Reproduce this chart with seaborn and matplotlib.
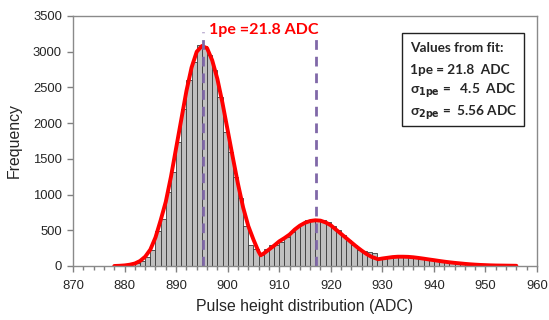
import numpy as np
import pandas as pd
import matplotlib
matplotlib.use('Agg')
import matplotlib.pyplot as plt
import seaborn as sns
from matplotlib.patches import Rectangle
from matplotlib.ticker import MultipleLocator

# histogram: left bin edge (ADC) and counts
bin_left = list(range(878, 957))
counts = [2, 5, 12, 22, 40, 75, 130, 230, 490, 660,
          1040, 1320, 1740, 2200, 2600, 2850, 3100, 3080, 2950, 2740,
          2370, 1880, 1600, 1250, 950, 560, 300, 240, 150, 240,
          290, 300, 340, 410, 470, 540, 590, 640, 650, 655,
          640, 610, 560, 500, 440, 370, 300, 220, 210, 190,
          180, 110, 130, 130, 135, 135, 135, 130, 125, 115,
          105, 90, 80, 70, 60, 50, 42, 35, 28, 22,
          17, 13, 10, 8, 6, 4, 3, 2, 1]

# fitted curve
fit_x = [878, 879, 880, 881, 882, 883, 884, 885, 886, 887, 888, 889, 890,
         891, 892, 893, 894, 895, 896, 897, 898, 899, 900, 901, 902, 903,
         904, 905, 906, 906.4, 907, 908, 909, 910, 911, 912, 913, 914, 915,
         916, 917, 918, 919, 920, 921, 922, 923, 924, 925, 926, 927, 928,
         929.2, 930, 931, 932, 933, 934, 935, 936, 937, 938, 939, 940, 941,
         942, 943, 944, 945, 946, 947, 948, 949, 950, 951, 952, 953, 954,
         955, 956]
fit_y = [0, 3, 8, 18, 35, 70, 130, 230, 400, 640, 900, 1250, 1650,
         2050, 2450, 2780, 3000, 3080, 3050, 2880, 2620, 2280, 1900, 1520, 1150, 820,
         560, 370, 200, 150, 175, 230, 285, 345, 390, 440, 510, 565, 605,
         630, 640, 635, 610, 570, 510, 450, 390, 330, 270, 215, 165, 125,
         95, 105, 115, 125, 130, 130, 128, 122, 113, 103, 92, 82, 71,
         61, 52, 44, 37, 30, 24, 19, 15, 12, 9, 7, 6, 5,
         4, 3]

peak_positions = [895.2, 917.2]
fit_lines = ['Values from fit:', '1pe = 21.8  ADC',
             r'σ$_{\mathbf{1pe}}$ =   4.5  ADC', r'σ$_{\mathbf{2pe}}$ =  5.56 ADC']

sns.set_style('white')
plt.rcParams['font.family'] = ['Liberation Sans', 'DejaVu Sans']
plt.rcParams['mathtext.default'] = 'bf'

fig = plt.figure(figsize=(5.49, 3.2), dpi=100)
ax = fig.add_axes([73 / 549, 1 - 266 / 320, 464 / 549, 250 / 320])

df = pd.DataFrame({'adc': bin_left, 'n': counts})
sns.histplot(data=df, x='adc', weights='n', binwidth=1, binrange=(878, 957),
             color='#c0c0c0', edgecolor='#3a3a3a', linewidth=0.6, alpha=1, ax=ax)
sns.lineplot(x=fit_x, y=fit_y, color='#ff0000', linewidth=2.8, estimator=None,
             sort=False, ax=ax)
ax.vlines(peak_positions, 0, 3280, colors='#8068a8', linestyles=(0, (3.5, 2.5)),
          linewidth=2)

ax.text(896.3, 3300, '1pe =21.8 ADC', color='#ff0000', fontsize=11.5,
        fontweight='bold', family=['Lato', 'DejaVu Sans'], va='center')

ax.set_xlim(870, 960)
ax.set_ylim(0, 3500)
ax.xaxis.set_major_locator(MultipleLocator(10))
ax.xaxis.set_minor_locator(MultipleLocator(2))
ax.yaxis.set_major_locator(MultipleLocator(500))
ax.tick_params(axis='both', which='major', direction='out', length=4, width=1,
               color='#808080', labelsize=9.4, bottom=True, left=True, pad=4)
ax.tick_params(axis='x', which='minor', direction='out', length=3, width=1,
               color='#808080', bottom=True)
ax.tick_params(axis='x', which='major', pad=6)
for s in ax.spines.values():
    s.set_color('#8a8a8a')
    s.set_linewidth(1)

ax.set_xlabel('Pulse height distribution (ADC)', fontsize=11.4, labelpad=5)
ax.set_ylabel('Frequency', fontsize=11.4, labelpad=8)

# box with fit values
fig.patches.append(Rectangle((402 / 549, 1 - 126 / 320), 122 / 549, 93 / 320,
                             transform=fig.transFigure, fill=True, facecolor='white',
                             edgecolor='#222222', linewidth=1, zorder=5))
for i, line in enumerate(fit_lines):
    fig.text(410 / 549, 1 - (48 + i * 21.5) / 320, line, fontsize=9.8,
             fontweight='bold', family=['Lato', 'DejaVu Sans'], va='center',
             zorder=6)

fig.savefig('out.png', dpi=100)
